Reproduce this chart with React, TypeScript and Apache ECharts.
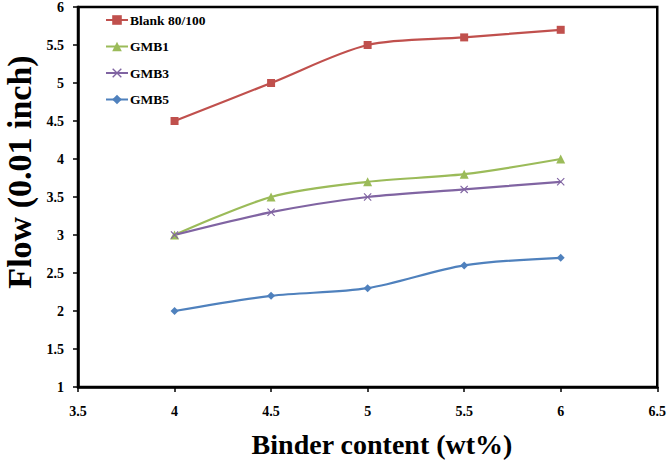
import React, { useEffect, useRef } from "react";
import * as echarts from "echarts";

const xValues = [4, 4.5, 5, 5.5, 6];
const blank = [4.5, 5.0, 5.5, 5.6, 5.7];
const gmb1 = [3.0, 3.5, 3.7, 3.8, 4.0];
const gmb3 = [3.0, 3.3, 3.5, 3.6, 3.7];
const gmb5 = [2.0, 2.2, 2.3, 2.6, 2.7];
const seriesNames = ["Blank 80/100", "GMB1", "GMB3", "GMB5"];
const colors = ["#C0504D", "#9BBB59", "#8064A2", "#4F81BD"];

const crossPath =
  "path://M0,1L1,0L5,4L9,0L10,1L6,5L10,9L9,10L5,6L1,10L0,9L4,5Z";

export default function App() {
  const ref = useRef<HTMLDivElement>(null);
  useEffect(() => {
    const chart = echarts.init(ref.current!, null, { renderer: "svg" });
    const font = "'Liberation Serif', 'Times New Roman', serif";
    const pair = (ys: number[]) => xValues.map((x, i) => [x, ys[i]]);
    const symbols = ["rect", "triangle", crossPath, "diamond"];
    const sizes = [8, 9, 8, 8];
    const datas = [blank, gmb1, gmb3, gmb5];
    chart.setOption({
      animation: false,
      backgroundColor: "#fff",
      textStyle: { fontFamily: font },
      grid: {
        left: 78,
        top: 7,
        right: 11,
        bottom: 76,
        show: true,
        borderColor: "#000",
        borderWidth: 2.5,
      },
      legend: {
        left: 100,
        top: 8,
        orient: "vertical",
        itemWidth: 22,
        itemHeight: 12,
        itemGap: 12.5,
        data: seriesNames,
        textStyle: {
          fontFamily: font,
          fontWeight: "bold",
          fontSize: 13.5,
          color: "#000",
          padding: [0, 0, 0, -3],
        },
      },
      xAxis: {
        type: "value",
        min: 3.5,
        max: 6.5,
        interval: 0.5,
        splitLine: { show: false },
        axisLine: { show: true, lineStyle: { color: "#000", width: 2.5 } },
        axisTick: { show: true, length: 5, lineStyle: { color: "#000", width: 1.5 } },
        axisLabel: {
          color: "#000",
          fontFamily: font,
          fontWeight: "bold",
          fontSize: 14,
          margin: 17,
        },
      },
      yAxis: {
        type: "value",
        min: 1,
        max: 6,
        interval: 0.5,
        splitLine: { show: false },
        axisLine: { show: true, lineStyle: { color: "#000", width: 2.5 } },
        axisTick: { show: true, length: 5, lineStyle: { color: "#000", width: 1.5 } },
        axisLabel: {
          color: "#000",
          fontFamily: font,
          fontWeight: "bold",
          fontSize: 14,
          margin: 14,
        },
      },
      graphic: [
        {
          type: "text",
          x: 19,
          y: 172,
          rotation: Math.PI / 2,
          style: {
            text: "Flow (0.01 inch)",
            fontFamily: font,
            fontWeight: "bold",
            fontSize: 34,
            fill: "#000",
            align: "center",
            verticalAlign: "middle",
          },
        },
        {
          type: "text",
          x: 382,
          y: 444,
          style: {
            text: "Binder content (wt%)",
            fontFamily: font,
            fontWeight: "bold",
            fontSize: 28,
            fill: "#000",
            align: "center",
            verticalAlign: "middle",
          },
        },
      ],
      series: seriesNames.map((name, i) => ({
        name,
        type: "line",
        smooth: 0.3,
        data: pair(datas[i]),
        symbol: symbols[i],
        symbolSize: sizes[i],
        showSymbol: true,
        color: colors[i],
        lineStyle: { color: colors[i], width: 2.2 },
        itemStyle: { color: colors[i] },
      })),
    });
    return () => chart.dispose();
  }, []);
  return (
    <div
      ref={ref}
      style={{ position: "fixed", left: 0, top: 0, width: 669, height: 463 }}
    />
  );
}
